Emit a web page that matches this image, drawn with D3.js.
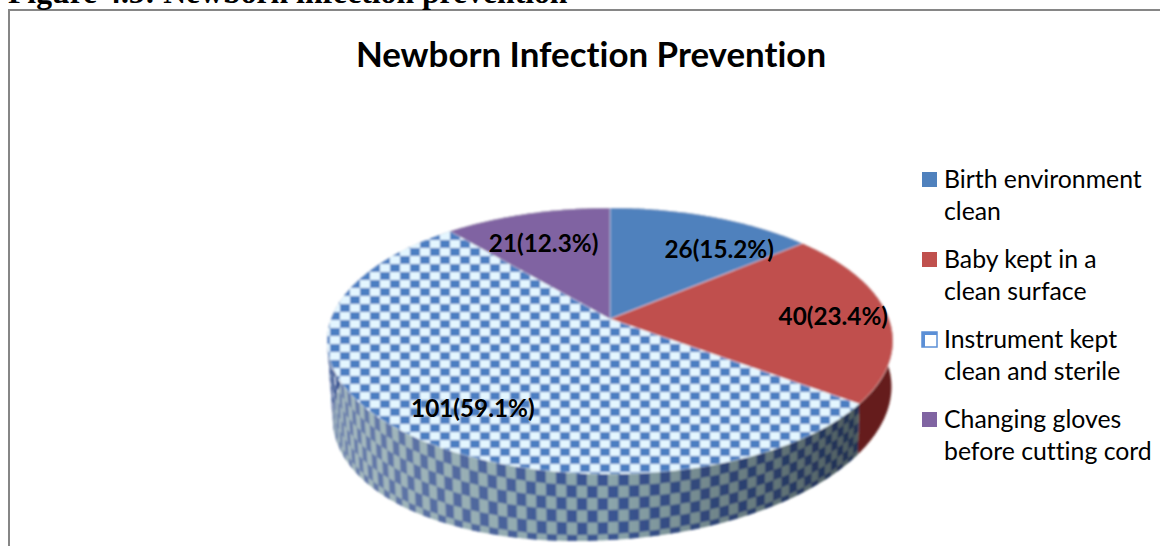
<!DOCTYPE html>
<html>
<head>
<meta charset="utf-8">
<script src="https://cdnjs.cloudflare.com/ajax/libs/d3/7.8.5/d3.min.js"></script>
<style>
  html, body { margin: 0; padding: 0; background: #fff; overflow: hidden; }
  svg { display: block; }
  text { font-family: Lato, "Open Sans", sans-serif; fill: #000; font-variant-ligatures: none; }
</style>
</head>
<body>
<div id="chart"></div>
<script>
// data
var caption = "Figure 4.5: Newborn infection prevention";
var title = "Newborn Infection Prevention";
var categories = ["Birth environment clean", "Baby kept in a clean surface", "Instrument kept clean and sterile", "Changing gloves before cutting cord"];
var legendLines = [["Birth environment", "clean"], ["Baby kept in a", "clean surface"], ["Instrument kept", "clean and sterile"], ["Changing gloves", "before cutting cord"]];
var counts = [26, 40, 101, 21];
var percents = [15.2, 23.4, 59.1, 12.3];
var colors = ["#4f81bd", "#c0504d", "url(#checkTop)", "#8064a2"];
var sideColors = ["#2f4e72", "#651e1c", "#8ba5ab", "#4d3c62"];
var legendColors = ["#4f81bd", "#c0504d", "#fff", "#8064a2"];

var width = 1160;
var height = 546;

// centre of the pie on the page and the tilt of the 3d view
var cx = 610, cy = 319;
var persp = -0.165;
var radX = 279, radY = 129.4;

// where each data label sits, relative to its slice's midpoint at r=0.75
var labelNudge = [[30, 18], [15, 9], [20, 20], [-2, 15]];

var svg = d3.select("#chart").append("svg")
  .attr("width", width)
  .attr("height", height);

var defs = svg.append("defs");

// checker fill for the instrument slice
var checkW = 10, checkH = 8;
var check = defs.append("pattern")
  .attr("id", "checkTop")
  .attr("patternUnits", "userSpaceOnUse")
  .attr("width", checkW * 2)
  .attr("height", checkH * 2);
check.append("rect").attr("width", checkW * 2).attr("height", checkH * 2).attr("fill", "#e4f6ff");
check.append("rect").attr("width", checkW).attr("height", checkH).attr("fill", "#4c7ec2");
check.append("rect").attr("x", checkW).attr("y", checkH).attr("width", checkW).attr("height", checkH).attr("fill", "#4c7ec2");

// the jpeg softness of the original
defs.append("filter").attr("id", "soft")
  .append("feGaussianBlur").attr("stdDeviation", 0.9);

var shade = defs.append("linearGradient")
  .attr("id", "sideShade")
  .attr("gradientUnits", "userSpaceOnUse")
  .attr("x1", 330).attr("x2", 890).attr("y1", 0).attr("y2", 0);
shade.append("stop").attr("offset", 0).attr("stop-color", "#fff").attr("stop-opacity", 0.25);
shade.append("stop").attr("offset", 0.45).attr("stop-color", "#fff").attr("stop-opacity", 0);
shade.append("stop").attr("offset", 0.5).attr("stop-color", "#000").attr("stop-opacity", 0);
shade.append("stop").attr("offset", 1).attr("stop-color", "#000").attr("stop-opacity", 0.5);

// chart frame
svg.append("rect")
  .attr("x", 9).attr("y", 10)
  .attr("width", width + 20).attr("height", height + 20)
  .attr("fill", "#fff")
  .attr("stroke", "#868686")
  .attr("stroke-width", 2);

svg.append("text")
  .attr("x", 8).attr("y", 3)
  .style("font-family", "'Liberation Serif', serif")
  .style("font-weight", "bold")
  .style("font-size", "31.7px")
  .text(caption);

svg.append("text")
  .attr("x", 591).attr("y", 67)
  .attr("text-anchor", "middle")
  .style("font-weight", "bold")
  .style("font-size", "34.9px")
  .text(title);

var pie = d3.pie().sort(null).value(function(d) { return d; });
var slices = pie(counts);

// flat pie coords -> page, perspective squashes the far side
function project(angle, r) {
  var u = Math.sin(angle) * r, v = Math.cos(angle) * -r;
  // v runs -1 (far) to 1 (near)
  var w = 1 + persp * v;
  return [cx + radX * u / w, cy + radY * v / w];
}

// bottom rim is the top rim pushed down, a bit less on the right hand side
function drop(p) {
  var dx = p[0] - cx;
  var t = (p[1] - 208) / 266;
  return [cx + dx * (dx < 0 ? 0.98 : 0.995), p[1] + 54 + 12 * t - (dx < 0 ? 0.062 : 0.05) * dx];
}

function rim(d) {
  var n = Math.ceil((d.endAngle - d.startAngle) / 0.01);
  return d3.range(n + 1).map(function(i) {
    return project(d.startAngle + (d.endAngle - d.startAngle) * i / n, 1);
  });
}

var line = d3.line().curve(d3.curveLinear);

function sidePath(d) {
  var top = rim(d);
  return line(top.concat(top.map(drop).reverse())) + "Z";
}

function topPath(d) {
  return line([[cx, cy]].concat(rim(d))) + "Z";
}

// checks on the side wall wrap round the rim so they narrow towards the edges
var sideStep = 0.0314, sideRows = 5.5;

function wallPoint(angle, t) {
  var a = project(angle, 1), b = drop(a);
  return [a[0] + (b[0] - a[0]) * t, a[1] + (b[1] - a[1]) * t];
}

function sideCells(d) {
  var cells = [];
  d3.range(d.startAngle, d.endAngle, sideStep).forEach(function(a, col) {
    d3.range(Math.ceil(sideRows)).forEach(function(row) {
      if ((col + row) % 2) return;
      var a2 = Math.min(a + sideStep, d.endAngle);
      var t1 = row / sideRows, t2 = Math.min(1, (row + 1) / sideRows);
      cells.push([wallPoint(a, t1), wallPoint(a2, t1), wallPoint(a2, t2), wallPoint(a, t2)]);
    });
  });
  return cells;
}

var pieGroup = svg.append("g").attr("filter", "url(#soft)");

// sides first, top faces paint over the back part
pieGroup.append("g").selectAll("path")
  .data(slices)
  .enter().append("path")
  .attr("d", sidePath)
  .attr("fill", function(d, i) { return sideColors[i]; });

pieGroup.append("g").selectAll("path")
  .data(sideCells(slices[2]))
  .enter().append("path")
  .attr("d", function(c) { return line(c) + "Z"; })
  .attr("fill", "#3a5592");

pieGroup.append("path")
  .attr("d", sidePath(slices[2]))
  .attr("fill", "url(#sideShade)");

pieGroup.append("g").selectAll("path")
  .data(slices)
  .enter().append("path")
  .attr("d", topPath)
  .attr("fill", function(d, i) { return colors[i]; })
  .attr("stroke", "#fff")
  .attr("stroke-opacity", 0.4)
  .attr("stroke-width", 1);

// data labels
svg.append("g").selectAll("text")
  .data(slices)
  .enter().append("text")
  .attr("text-anchor", "middle")
  .style("font-weight", "bold")
  .style("font-size", "24.3px")
  .attr("transform", function(d, i) {
    var p = project((d.startAngle + d.endAngle) / 2, 0.75);
    return "translate(" + (p[0] + labelNudge[i][0]) + "," + (p[1] + labelNudge[i][1]) + ")";
  })
  .text(function(d, i) { return counts[i] + "(" + percents[i].toFixed(1) + "%)"; });

// legend
var legendY = d3.scalePoint().domain(categories).range([172, 412]);

var legend = svg.append("g").selectAll("g")
  .data(categories)
  .enter().append("g")
  .attr("transform", function(d) { return "translate(922," + legendY(d) + ")"; });

legend.append("rect")
  .attr("width", 15).attr("height", 15)
  .attr("fill", function(d, i) { return legendColors[i]; })
  .attr("stroke", function(d, i) { return i == 2 ? "#5b8fd6" : "none"; })
  .attr("stroke-width", function(d, i) { return i == 2 ? 1.5 : 0; });

// instrument swatch only shows a corner of the checker
legend.filter(function(d, i) { return i == 2; }).append("path")
  .attr("d", "M1.5,15V1.5H15")
  .attr("fill", "none")
  .attr("stroke", "#5b8fd6")
  .attr("stroke-width", 3);

legend.selectAll("text")
  .data(function(d, i) { return legendLines[i]; })
  .enter().append("text")
  .attr("x", 22)
  .attr("y", function(d, j) { return 16 + j * 32; })
  .style("font-size", "24.8px")
  .text(function(d) { return d; });
</script>
</body>
</html>
